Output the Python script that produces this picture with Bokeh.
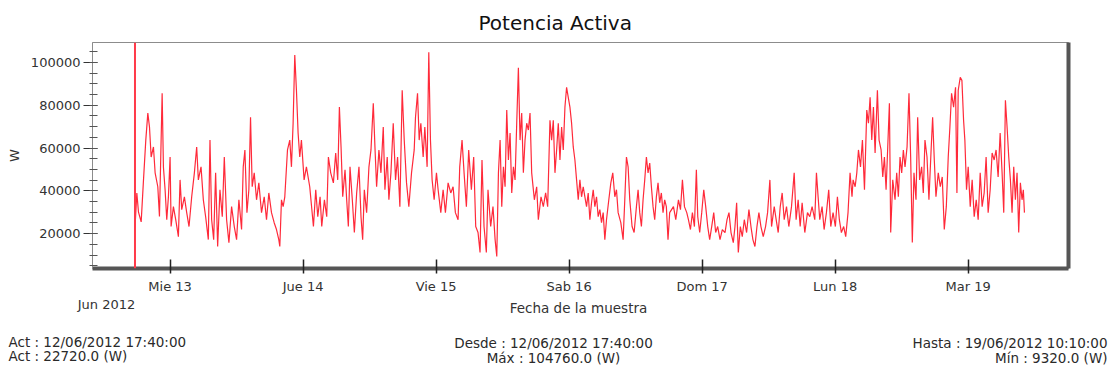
from datetime import datetime, timedelta

from bokeh.plotting import figure
from bokeh.layouts import column
from bokeh.models import (Range1d, FixedTicker, SingleIntervalTicker, BasicTickFormatter,
                          Span, LinearAxis, Title)
from bokeh.core.properties import value
from bokeh.embed import file_html
from bokeh.resources import INLINE

# ---------------- data ----------------
start_time = datetime(2012, 6, 12, 17, 40)      # first sample
end_time = datetime(2012, 6, 19, 10, 10)        # last sample

# minutes after the first sample
sample_minutes = [
    0, 20, 38, 67, 92, 117, 139, 157, 175, 200, 218, 247, 265, 279, 294, 308, 326, 344, 362, 380,
    391, 416, 441, 470, 488, 506, 535, 560, 585, 614, 643, 668, 686, 715, 740, 765, 794, 812, 830, 852,
    873, 895, 920, 945, 967, 992, 1017, 1046, 1075, 1100, 1125, 1154, 1172, 1190, 1212, 1233, 1251, 1269, 1291, 1316,
    1341, 1370, 1399, 1424, 1449, 1478, 1507, 1532, 1557, 1568, 1586, 1604, 1622, 1651, 1676, 1694, 1712, 1730, 1748, 1766,
    1784, 1802, 1831, 1856, 1892,
    1932, 1957, 1979, 2004, 2022, 2051, 2076, 2094, 2119, 2148, 2173, 2195, 2213, 2231, 2249, 2274, 2292, 2310, 2328, 2353,
    2375, 2400, 2425, 2447, 2465, 2483, 2508, 2533, 2555, 2580, 2598, 2616, 2641, 2663, 2688, 2706, 2731, 2749, 2771, 2796,
    2821, 2843, 2868, 2893, 2915, 2940, 2965, 2994, 3023, 3037, 3059, 3077, 3095, 3120, 3138, 3163, 3181, 3199, 3217, 3239,
    3264, 3282, 3311, 3336, 3361, 3390, 3419, 3444, 3469, 3498, 3516, 3541, 3563, 3588, 3613, 3642, 3667, 3689, 3714, 3736,
    3757, 3779, 3804, 3822, 3851, 3876,
    3899, 3917, 3935, 3953, 3971, 3989, 4007, 4025, 4043, 4061, 4079, 4097, 4115, 4133, 4151, 4169, 4187, 4205, 4223, 4241,
    4259, 4277, 4295, 4324, 4349, 4367, 4396, 4421, 4446, 4468, 4493, 4511, 4529, 4547, 4565, 4583, 4601, 4619, 4637, 4655,
    4673, 4691, 4709, 4727, 4745, 4763, 4781, 4799, 4817, 4835, 4853, 4871, 4889, 4907, 4925, 4943, 4961, 4979, 4997, 5015,
    5033, 5051, 5069, 5087, 5105, 5130, 5152, 5173, 5195, 5213, 5231, 5260, 5285, 5303, 5321, 5339, 5357, 5382, 5404, 5429,
    5447, 5465, 5483, 5501, 5519, 5537, 5555, 5573, 5591, 5609, 5627, 5645, 5663, 5681, 5699, 5717, 5735, 5753, 5771, 5789,
    5830, 5855, 5884, 5906, 5927, 5949, 5974, 5992, 6014, 6035, 6057, 6078, 6093, 6114, 6136, 6158, 6179, 6201, 6222, 6244,
    6266, 6287, 6309, 6334, 6359, 6388, 6410, 6431, 6453, 6478, 6496, 6514, 6532, 6554, 6575, 6597, 6622, 6647, 6669, 6690,
    6712, 6734, 6755, 6777, 6802, 6827, 6849, 6874, 6892, 6921, 6942, 6964, 6986, 7007, 7029, 7054, 7079, 7108, 7137, 7158,
    7180, 7202, 7223, 7252, 7281, 7306, 7331, 7360, 7378, 7396, 7414, 7439, 7461, 7486, 7511, 7533, 7558, 7583, 7605, 7626,
    7648, 7673, 7695, 7720, 7742, 7763,
    7775, 7797, 7815, 7833, 7855, 7876, 7898, 7923, 7941, 7959, 7977, 7995, 8013, 8038, 8056, 8078, 8096, 8114, 8132, 8150,
    8168, 8182, 8204, 8229, 8247, 8265, 8283, 8301, 8319, 8337, 8359, 8380, 8398, 8416, 8434, 8456, 8474, 8495, 8517, 8535,
    8553, 8575, 8596, 8618, 8636, 8654, 8672, 8697, 8719, 8740, 8762, 8784, 8805, 8823, 8841, 8863, 8884, 8899, 8913, 8935,
    8953, 8971, 8985, 9003, 9021, 9043, 9064, 9086, 9108, 9129, 9151, 9172, 9194, 9215, 9237, 9259, 9280, 9302, 9323, 9345,
    9367, 9388, 9406, 9424, 9442, 9460, 9478, 9496, 9514, 9532, 9550, 9568, 9586, 9604, 9618, 9630,
]

# active power (W)
active_power = [
    22720, 39000, 30000, 25500, 45000, 63700, 76300, 69800, 55800, 60500, 48400, 41900, 28000, 55800, 85600, 51000, 40500, 26500, 37200, 55800,
    23300, 32600, 26500, 18600, 45100, 31200, 37200, 29800, 23300, 37200, 48400, 60500, 45100, 51200, 35800, 27900, 17200, 63700, 26500, 17200,
    48400, 14000, 40500, 27900, 55800, 26500, 15800, 32600, 23300, 17200, 35800, 21900, 51200, 59100, 29800, 40500, 74400, 41900, 48400, 35800,
    43700, 29800, 37200, 26500, 39000, 29800, 25100, 21900, 17200, 14000, 35800, 32600, 37200, 59100, 63700, 51200, 71600, 103500, 87000, 67000,
    55800, 63700, 45100, 51200, 41900,
    23300, 40500, 27900, 37200, 23300, 35800, 27900, 55800, 48400, 43700, 57700, 45100, 79100, 60500, 37200, 49800, 35800, 23300, 51200, 35800,
    20500, 39000, 51200, 27900, 17200, 40500, 29800, 51200, 59100, 80900, 60500, 41900, 59100, 48400, 69800, 40500, 55800, 35800, 48400, 71600,
    45100, 55800, 32600, 87000, 63700, 43700, 32600, 48400, 59100, 74400, 85600, 63700, 71600, 55800, 69800, 51200, 104760, 63700, 45100, 35800,
    48400, 40500, 29800, 40500, 29800, 43700, 39000, 41900, 29800, 26500, 51200, 63700, 48400, 32600, 59100, 40500, 55800, 23300, 20500, 11200,
    54400, 23300, 11200, 40500, 23300, 32600,
    17200, 9320, 48400, 63700, 32600, 51200, 41900, 77700, 54400, 67000, 39000, 51200, 45100, 71600, 97500, 63700, 76300, 48400, 63700, 71600,
    68400, 76300, 48400, 35800, 41900, 26500, 37200, 32600, 39000, 32600, 73000, 63700, 73000, 48400, 59100, 71600, 54400, 69800, 59100, 79100,
    88400, 83700, 79100, 71600, 60500, 54400, 45100, 35800, 45100, 37200, 41900, 37200, 32600, 39000, 26500, 34400, 40500, 32600, 37200, 27900,
    31200, 25100, 29800, 17200, 26500, 35800, 43700, 48400, 37200, 40500, 29800, 25100, 17200, 35800, 55800, 51200, 35800, 23300, 20500, 32600,
    40500, 29800, 23300, 35800, 45100, 55800, 48400, 53000, 41900, 32600, 26500, 37200, 43700, 34400, 39000, 29800, 35800, 32600, 17200, 29800,
    32600, 26500, 35800, 31200, 45100, 32600, 29800, 26500, 21900, 29800, 23300, 49800, 27900, 20500, 29800, 40500, 32600, 23300, 17200, 23300,
    29800, 20500, 23300, 17200, 21900, 20500, 26500, 29800, 20500, 15800, 23300, 34400, 11200, 23300, 18600, 26500, 20500, 31200, 23300, 17200,
    14000, 23300, 29800, 23300, 18600, 23300, 29800, 45100, 23300, 32600, 26500, 20500, 32600, 39000, 26500, 32600, 23300, 32600, 48400, 26500,
    35800, 23300, 34400, 20500, 29800, 27900, 32600, 26500, 48400, 37200, 26500, 32600, 21900, 29800, 40500, 23300, 29800, 23300, 37200, 26500,
    20500, 23300, 18600, 29800, 48400, 37200,
    45100, 41900, 48400, 59100, 51200, 63700, 40500, 77700, 71600, 83700, 63700, 79100, 57700, 87000, 63700, 59100, 46500, 55800, 40500, 60500,
    80900, 20500, 45100, 35800, 48400, 37200, 55800, 48400, 59100, 51200, 60500, 85600, 55800, 15800, 48400, 35800, 74400, 45100, 51200, 39000,
    63700, 55800, 35800, 57700, 74400, 54400, 37200, 48400, 41900, 46500, 21900, 32600, 55800, 69800, 85600, 79100, 88400, 39000, 87000, 93000,
    91600, 73000, 63700, 40500, 51200, 32600, 45100, 27900, 35800, 26500, 48400, 32600, 39000, 55800, 29800, 40500, 57700, 54400, 59100, 46500,
    67000, 48400, 29800, 82300, 69800, 55800, 45100, 29800, 51200, 35800, 48400, 20500, 43700, 35800, 40500, 29800,
]

day_ticks = [datetime(2012, 6, d) for d in range(13, 20)]
day_labels = ["Mie 13", "Jue 14", "Vie 15", "Sab 16", "Dom 17", "Lun 18", "Mar 19"]

title_text = "Potencia Activa"
y_label = "W"
x_label = "Fecha de la muestra"
month_label = "Jun 2012"
footer_left = ["Act : 12/06/2012 17:40:00", "Act : 22720.0 (W)"]
footer_mid = ["Desde : 12/06/2012 17:40:00", "Máx : 104760.0 (W)"]
footer_right = ["Hasta : 19/06/2012 10:10:00", "Mín : 9320.0 (W)"]

# ---------------- helpers ----------------
EPOCH = datetime(1970, 1, 1)


def ms(d):
    return (d - EPOCH).total_seconds() * 1000.0


xs = [ms(start_time + timedelta(minutes=m)) for m in sample_minutes]

FONT = "DejaVu Sans"
TXT = "#333333"
W = 1109
H_MAIN = 296
H_FOOT = 371 - H_MAIN
BL, BR, BT, BB = 92, 41, 42, 27

x_start = ms(start_time - timedelta(minutes=460))
x_end = ms(end_time + timedelta(minutes=477))

p = figure(width=W, height=H_MAIN, output_backend="svg", toolbar_location=None,
           x_range=Range1d(x_start, x_end), y_range=Range1d(3700, 109300),
           min_border_left=BL, min_border_right=BR, min_border_top=BT, min_border_bottom=BB,
           background_fill_color="white", border_fill_color="white",
           outline_line_color="#8c8c8c", outline_line_width=1)
p.grid.visible = False
p.frame_align = False

# title
p.title = Title(text=title_text, align="left", offset=386, standoff=16,
                text_font=FONT, text_font_size="20px", text_font_style="normal",
                text_color="#111111")

# x axis (its thick line doubles as the frame's bottom shadow)
xa = p.xaxis[0]
xa.ticker = FixedTicker(ticks=[ms(d) for d in day_ticks], minor_ticks=[])
xa.major_label_overrides = {int(ms(d)): lab for d, lab in zip(day_ticks, day_labels)}
xa.major_tick_in = 9
xa.major_tick_out = 5
xa.major_tick_line_color = "#222222"
xa.major_tick_line_width = 1.5
xa.minor_tick_line_color = None
xa.axis_line_color = "#555555"
xa.axis_line_width = 4
xa.major_label_standoff = 5
xa.major_label_text_font = FONT
xa.major_label_text_font_size = "13px"
xa.major_label_text_color = TXT

# right "axis": only a thick line as the frame's right shadow
ra = LinearAxis(ticker=FixedTicker(ticks=[]), axis_line_color="#555555", axis_line_width=4,
                major_tick_line_color=None, minor_tick_line_color=None,
                major_label_text_font_size="0px")
p.add_layout(ra, "right")

# y axis
ya = p.yaxis[0]
ya.ticker = SingleIntervalTicker(interval=20000, num_minor_ticks=4)
ya.formatter = BasicTickFormatter(use_scientific=False)
ya.major_tick_in = 5
ya.major_tick_out = 9
ya.minor_tick_in = 5
ya.minor_tick_out = 3
ya.major_tick_line_color = "#333333"
ya.minor_tick_line_color = "#555555"
ya.axis_line_color = "#8c8c8c"
ya.major_label_standoff = 3
ya.major_label_text_font = FONT
ya.major_label_text_font_size = "13px"
ya.major_label_text_color = TXT
ya.axis_label = y_label
ya.axis_label_standoff = 6
ya.axis_label_text_font = FONT
ya.axis_label_text_font_size = "13px"
ya.axis_label_text_font_style = "normal"
ya.axis_label_text_color = TXT

# data
p.line(xs, active_power, line_color="#ff2a3a", line_width=1.2)

# cursor at the first sample
p.add_layout(Span(location=ms(start_time), dimension="height",
                  line_color="#ff3a4a", line_width=2))

# ---------------- footer (pixel coordinates of this strip) ----------------
f = figure(width=W, height=H_FOOT, output_backend="svg", toolbar_location=None,
           x_range=Range1d(0, W), y_range=Range1d(0, H_FOOT),
           min_border_left=0, min_border_right=0, min_border_top=0, min_border_bottom=0,
           background_fill_color="white", border_fill_color="white", outline_line_color=None)
f.axis.visible = False
f.grid.visible = False
f.frame_align = False


def texts(xv, yv, tv, align, size, color="#2a2a2a"):
    f.text(x=xv, y=yv, text=tv, text_align=align, text_baseline="middle",
           text_font=value(FONT), text_font_size=value(size), text_color=color)


texts([106], [67], [month_label], "center", "13px", TXT)
texts([578], [64], [x_label], "center", "13.5px", TXT)
texts([8, 8], [30, 16], footer_left, "left", "13.5px")
texts([553, 553], [29, 14], footer_mid, "center", "13.5px")
texts([1107, 1107], [29, 14], footer_right, "right", "13.5px")

layout = column(p, f, spacing=0)
open("out.html", "w").write(file_html(layout, INLINE))
